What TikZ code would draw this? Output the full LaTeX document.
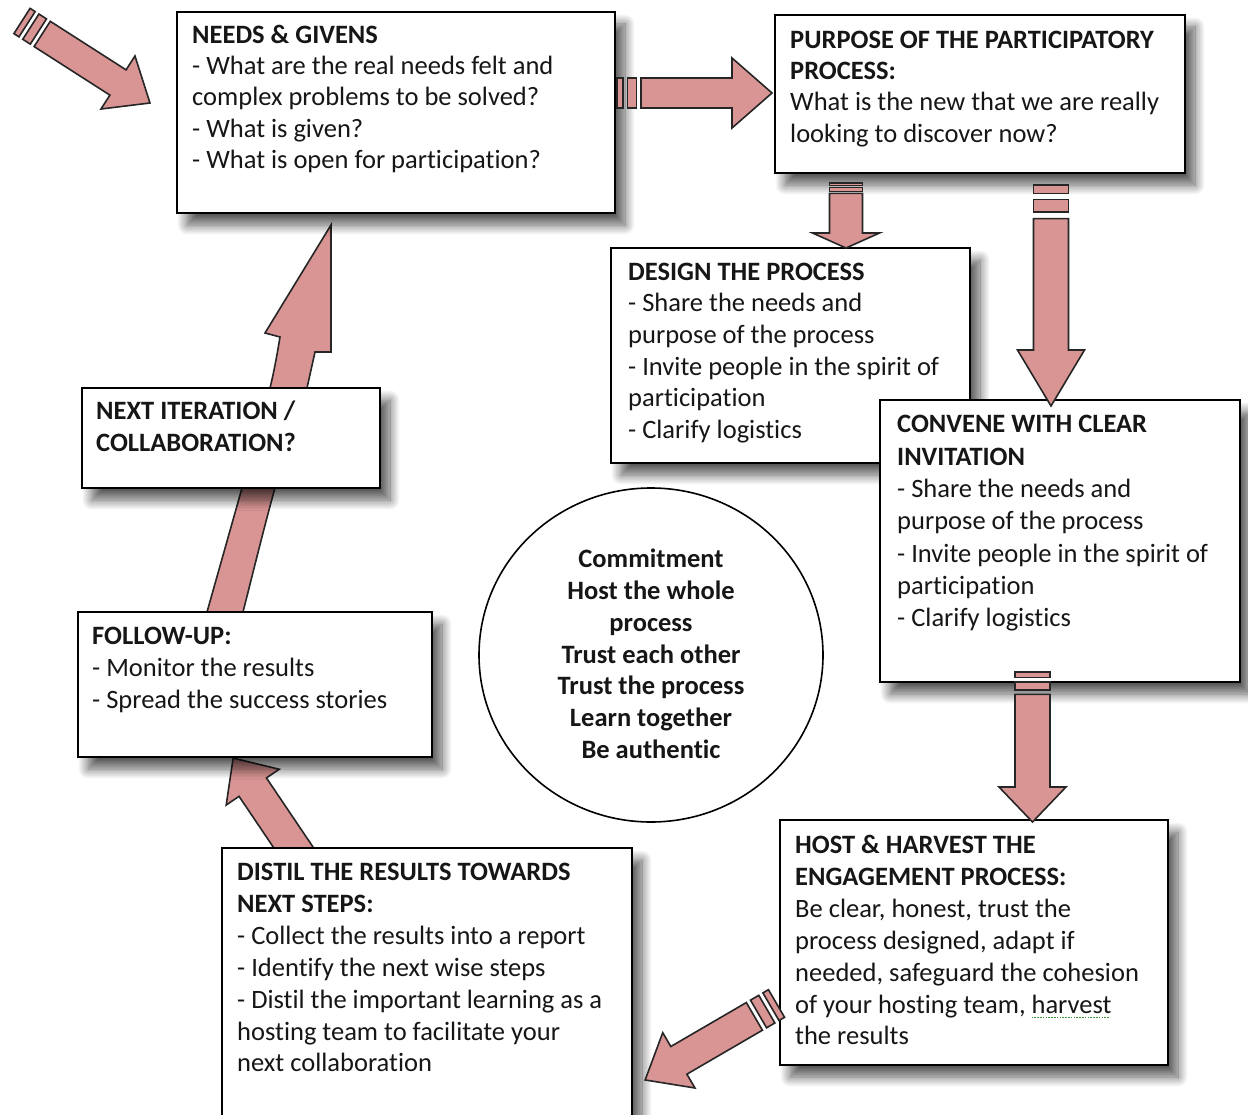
\documentclass[tikz,border=0pt]{standalone}
\usepackage{fontspec}
\setmainfont{Carlito}[Ligatures=NoCommon]
\usetikzlibrary{shadows.blur,shapes.geometric}

\definecolor{arrowfill}{HTML}{D99594}
\definecolor{inkc}{HTML}{161616}
\definecolor{grammar}{HTML}{3C9A3C}

% dotted green underline for a flagged word
\newcommand\grammarmark[1]{\setbox0\hbox{#1}%
  \rlap{\raisebox{-5pt}{\textcolor{grammar}{\leaders\hbox{\rule{1.5pt}{1.5pt}\kern1.3pt}\hskip\wd0}}}#1}

\tikzset{
  card/.style={draw=black, line width=2pt, fill=white, rectangle, inner sep=0pt,
    blur shadow={shadow xshift=10pt, shadow yshift=-12pt, shadow blur radius=10pt,
                 shadow blur steps=12, shadow opacity=65}},
  cardtext/.style={anchor=north west, inner sep=0pt, align=left, text=inkc,
    font=\fontsize{26.5}{#1}\selectfont},
  cardtext/.default=31.9,
  ringtext/.style={anchor=north, inner sep=0pt, align=center, text=inkc,
    font=\fontsize{26.5}{31.8}\selectfont\bfseries},
  arrowbody/.style={fill=arrowfill, draw=black!85, line width=1.6pt, line join=miter},
  % striped block arrow: length / shaft half width / head half width / head length / stripe unit
  pics/stripedarrow/.style args={#1/#2/#3/#4/#5}{code={
    \filldraw[arrowbody] (0,-#2) rectangle ({0.4*#5},#2);
    \filldraw[arrowbody] ({0.7*#5},-#2) rectangle ({1.3*#5},#2);
    \filldraw[arrowbody] ({1.6*#5},-#2) -- ({#1-#4},-#2) -- ({#1-#4},-#3) -- (#1,0)
      -- ({#1-#4},#3) -- ({#1-#4},#2) -- ({1.6*#5},#2) -- cycle;
  }},
}

\begin{document}
\begin{tikzpicture}[x=1pt, y=-1pt]
\useasboundingbox (0,0) rectangle (1248,1115);

% arrows lying underneath the boxes
\filldraw[arrowbody]
  plot[smooth, tension=0.5] coordinates {(199,640) (207,612) (242,488) (270,388) (280,337)}
  -- (265,333) -- (331,225) -- (331,352) -- (315,352)
  -- plot[smooth, tension=0.5] coordinates {(307,388) (275,488) (243,612) (236,640)} -- cycle;
\coordinate (distilout) at (312,875);
\pic[rotate=124] at (distilout) {stripedarrow=141/16.5/32/35/8};

% boxes
\node[card, minimum width=438pt, minimum height=201pt] (needs) at (396,112.5) {};
\node[card, minimum width=410pt, minimum height=158pt] (purpose) at (980,94) {};
\node[card, minimum width=359pt, minimum height=215pt] (design) at (790.5,355.5) {};
\node[card, minimum width=360pt, minimum height=282pt] (convene) at (1060,541) {};
\node[card, minimum width=298pt, minimum height=100pt] (next) at (231,438) {};
\node[card, minimum width=354pt, minimum height=145pt] (follow) at (255,684.5) {};
\node[card, minimum width=388pt, minimum height=245pt] (host) at (974,942.5) {};
\node[card, minimum width=410pt, minimum height=280pt] (distil) at (427,988) {};
\node[draw=black, line width=1.6pt, fill=white, ellipse, inner sep=0pt,
      minimum width=344pt, minimum height=334pt] (ring) at (651,655) {};

% box texts
\node[cardtext=31.3] (needs-t) at ([shift={(16pt,-10pt)}]needs.north west)
  {\strut\textbf{NEEDS \& GIVENS}\\
   - What are the real needs felt and\\
   complex problems to be solved?\\
   - What is given?\\
   - What is open for participation?};
\node[cardtext=31.3] (purpose-t) at ([shift={(16pt,-12pt)}]purpose.north west)
  {\strut\textbf{PURPOSE OF THE PARTICIPATORY}\\
   \textbf{PROCESS:}\\
   What is the new that we are really\\
   looking to discover now?};
\node[cardtext=31.6] (design-t) at ([shift={(18pt,-11pt)}]design.north west)
  {\strut\textbf{DESIGN THE PROCESS}\\
   - Share the needs and\\
   purpose of the process\\
   - Invite people in the spirit of\\
   participation\\
   - Clarify logistics};
\node[cardtext=32.3] (convene-t) at ([shift={(18pt,-11pt)}]convene.north west)
  {\strut\textbf{CONVENE WITH CLEAR}\\
   \textbf{INVITATION}\\
   - Share the needs and\\
   purpose of the process\\
   - Invite people in the spirit of\\
   participation\\
   - Clarify logistics};
\node[cardtext] (next-t) at ([shift={(15pt,-10pt)}]next.north west)
  {\strut\textbf{NEXT ITERATION /}\\
   \textbf{COLLABORATION?}};
\node[cardtext] (follow-t) at ([shift={(15pt,-11pt)}]follow.north west)
  {\strut\textbf{FOLLOW-UP:}\\
   - Monitor the results\\
   - Spread the success stories};
\node[cardtext] (host-t) at ([shift={(16pt,-12pt)}]host.north west)
  {\strut\textbf{HOST \& HARVEST THE}\\
   \textbf{ENGAGEMENT PROCESS:}\\
   Be clear, honest, trust the\\
   process designed, adapt if\\
   needed, safeguard the cohesion\\
   of your hosting team, \grammarmark{harvest}\\
   the results};
\node[cardtext] (distil-t) at ([shift={(16pt,-11pt)}]distil.north west)
  {\strut\textbf{DISTIL THE RESULTS TOWARDS}\\
   \textbf{NEXT STEPS:}\\
   - Collect the results into a report\\
   - Identify the next wise steps\\
   - Distil the important learning as a\\
   hosting team to facilitate your\\
   next collaboration};
\node[ringtext] (ring-t) at ([yshift=-58pt]ring.north)
  {\strut Commitment\\
   Host the whole\\
   process\\
   Trust each other\\
   Trust the process\\
   Learn together\\
   Be authentic};

% arrows lying on top of the boxes
\coordinate (startin) at (22,21);
\pic[rotate=-32.65] at (startin) {stripedarrow=152/15/31.5/38/15};
\coordinate (needsout) at (617,93);
\pic at (needsout) {stripedarrow=155/15/35/40/15};
\coordinate (purposeout1) at (846,183);
\pic[rotate=-90] at (purposeout1) {stripedarrow=65/16.5/33.5/15/6.5};
\coordinate (purposeout2) at (1051,185);
\pic[rotate=-90] at (purposeout2) {stripedarrow=221/17.5/33.5/56/21};
\coordinate (conveneout) at (1032.5,672);
\pic[rotate=-90] at (conveneout) {stripedarrow=150/17.5/33.5/35/14};
\coordinate (hostout) at (776.5,1003.5);
\pic[rotate=210.2] at (hostout) {stripedarrow=152/16/32/39/16};
\end{tikzpicture}
\end{document}
